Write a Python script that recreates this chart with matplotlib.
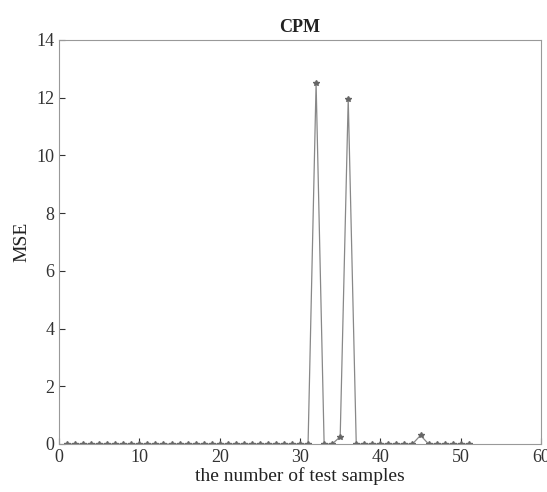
import numpy as np
import matplotlib.pyplot as plt

plt.rcParams['font.family'] = ['Liberation Serif', 'DejaVu Serif']

# test sample index and MSE values
samples = list(range(1, 52))
mse = [0.0] * 51
mse[32 - 1] = 12.5
mse[35 - 1] = 0.25
mse[36 - 1] = 11.95
mse[45 - 1] = 0.3

fig = plt.figure(figsize=(5.47, 4.92), dpi=100)
ax = fig.add_axes([0.108, 0.0976, 0.881, 0.8214])
ax.plot(samples, mse, '-', color='#888888', lw=0.9,
        marker='*', ms=4, mec='#666666', mfc='#666666')

ax.set_xlim(0, 60)
ax.set_ylim(0, 14)
ax.set_xticks(range(0, 61, 10))
ax.set_yticks(range(0, 15, 2))
ax.tick_params(direction='in', labelsize=13, colors='#333333', length=4)
for s in ax.spines.values():
    s.set_color('#999999')
ax.set_title('CPM', fontsize=13, fontweight='bold', color='#222222')
ax.set_xlabel('the number of test samples', fontsize=14, color='#222222', labelpad=1)
ax.set_ylabel('MSE', fontsize=14, color='#222222')

fig.savefig('out.png', dpi=100)
